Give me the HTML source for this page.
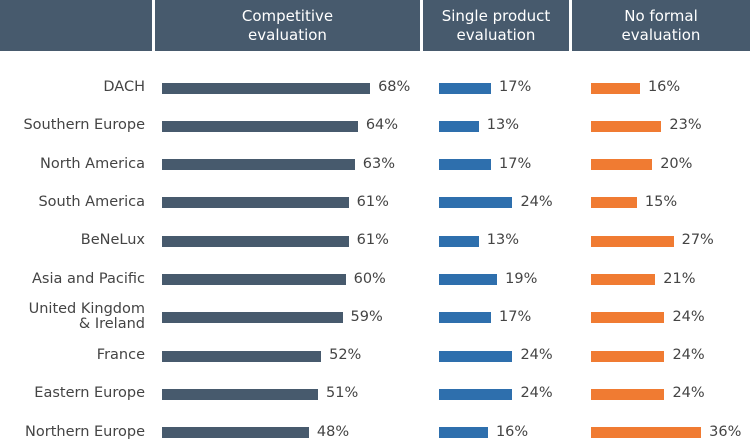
<!DOCTYPE html>
<html><head><meta charset="utf-8"><style>
body{margin:0;width:750px;height:444px;background:#fff;position:relative;overflow:hidden;font-family:"DejaVu Sans","Liberation Sans",sans-serif;}
.h{position:absolute;top:0;height:51px;background:#475a6d;color:#fff;font-size:15px;line-height:19px;text-align:center;display:flex;align-items:center;justify-content:center;}
.l{position:absolute;right:605px;font-size:14.5px;color:#444;text-align:right;line-height:15px;white-space:nowrap}
.b{position:absolute;height:11px}
.v{position:absolute;font-size:14.5px;color:#444;line-height:15px}
</style></head><body>
<div class="h" style="left:0;width:152px"></div>
<div class="h" style="left:155px;width:265px">Competitive<br>evaluation</div>
<div class="h" style="left:423px;width:146px">Single product<br>evaluation</div>
<div class="h" style="left:572px;width:178px">No formal<br>evaluation</div>
<div id="c"></div>
<script>
var rows=[["DACH",68,17,16],["Southern Europe",64,13,23],["North America",63,17,20],["South America",61,24,15],["BeNeLux",61,13,27],["Asia and Pacific",60,19,21],["United Kingdom<br>&amp; Ireland",59,17,24],["France",52,24,24],["Eastern Europe",51,24,24],["Northern Europe",48,16,36]];
var h="",s=3.06,starts=[162,439,591],cols=["#475a6d","#2e6fad","#f07b32"];
rows.forEach(function(r,i){var y=88+i*38.3;
var two=r[0].indexOf("<br>")>=0;
h+='<div class="l" style="top:'+(y-(two?16:8))+'px">'+r[0]+'</div>';
for(var k=0;k<3;k++){var w=r[k+1]*s;
h+='<div class="b" style="left:'+starts[k]+'px;top:'+(y-5.5)+'px;width:'+w+'px;background:'+cols[k]+'"></div>';
h+='<div class="v" style="left:'+(starts[k]+w+8)+'px;top:'+(y-8)+'px">'+r[k+1]+'%</div>';}
});
document.getElementById("c").innerHTML=h;
</script>
</body></html>
